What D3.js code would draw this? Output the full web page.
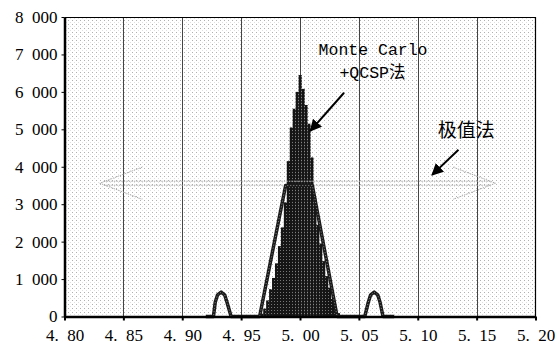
<!DOCTYPE html>
<html>
<head>
<meta charset="utf-8">
<script src="https://cdn.jsdelivr.net/npm/d3@7"></script>
<style>
  html, body { margin: 0; padding: 0; background: #fff; }
  #container { width: 556px; height: 350px; }
  .serif { font-family: "Liberation Serif", "Times New Roman", "DejaVu Serif", serif; }
  .mono { font-family: "Liberation Mono", "Courier New", "Noto Sans CJK SC", monospace; }
  .cjk { font-family: "Noto Sans CJK SC", sans-serif; }
</style>
</head>
<body>
<div id="container"></div>
<script>
// axis ticks
const xTicks = [4.80, 4.85, 4.90, 4.95, 5.00, 5.05, 5.10, 5.15, 5.20];
const yTicks = [0, 1000, 2000, 3000, 4000, 5000, 6000, 7000, 8000];

// Monte Carlo + QCSP histogram (bin centres, width 0.0025)
const histX = [4.9650, 4.9675, 4.9700, 4.9725, 4.9750, 4.9775, 4.9800, 4.9825, 4.9850, 4.9875,
               4.9900, 4.9925, 4.9950, 4.9975, 5.0000, 5.0025, 5.0050, 5.0075, 5.0100, 5.0125,
               5.0150, 5.0175, 5.0200, 5.0225, 5.0250, 5.0275, 5.0300, 5.0325, 5.0350, 5.0375];
const histCount = [20, 80, 210, 430, 730, 1030, 1420, 1880, 2380, 3050,
                   4150, 5050, 5550, 6000, 6450, 6080, 5650, 5150, 4250, 3150,
                   2450, 1950, 1480, 1080, 770, 470, 230, 90, 25, 8];
const binWidth = 0.0025;

// 极值法 curve
const extX = [4.920, 4.9265, 4.928, 4.930, 4.933, 4.936, 4.938, 4.9415, 4.9657, 4.9878,
              5.0105, 5.0315, 5.055, 5.058, 5.060, 5.063, 5.066, 5.068, 5.0705, 5.080];
const extY = [0, 0, 380, 580, 650, 580, 380, 0, 0, 3500,
              3500, 0, 0, 380, 580, 650, 580, 380, 0, 0];

const W = 556, H = 350;
const margin = {top: 17, right: 20.5, bottom: 33.5, left: 64.5};

const svg = d3.select("#container").append("svg")
    .attr("width", W)
    .attr("height", H);

const defs = svg.append("defs");
const bg = defs.append("pattern")
    .attr("id", "dots")
    .attr("width", 4).attr("height", 4)
    .attr("patternUnits", "userSpaceOnUse");
bg.append("rect").attr("width", 4).attr("height", 4).attr("fill", "#fff");
bg.append("rect").attr("x", 0).attr("y", 0).attr("width", 1).attr("height", 1).attr("fill", "#b0b0b0");
bg.append("rect").attr("x", 2).attr("y", 2).attr("width", 1).attr("height", 1).attr("fill", "#e0e0e0");

const dark = defs.append("pattern")
    .attr("id", "darkdots")
    .attr("width", 3).attr("height", 3)
    .attr("patternUnits", "userSpaceOnUse");
dark.append("rect").attr("width", 3).attr("height", 3).attr("fill", "#151515");
dark.append("rect").attr("x", 1).attr("y", 1).attr("width", 1).attr("height", 1).attr("fill", "#777");

defs.append("marker")
    .attr("id", "head")
    .attr("viewBox", "0 0 10 10")
    .attr("refX", 9).attr("refY", 5)
    .attr("markerWidth", 6).attr("markerHeight", 6)
    .attr("markerUnits", "strokeWidth")
    .attr("orient", "auto")
  .append("path")
    .attr("d", "M0,0L10,5L0,10z")
    .attr("fill", "#000");

const x = d3.scaleLinear().domain([4.80, 5.20]).range([margin.left, W - margin.right]);
const y = d3.scaleLinear().domain([0, 8000]).range([H - margin.bottom, margin.top]);

// plot background
svg.append("rect")
    .attr("x", x(4.80)).attr("y", y(8000))
    .attr("width", x(5.20) - x(4.80))
    .attr("height", y(0) - y(8000))
    .attr("fill", "url(#dots)");

// vertical grid
svg.append("g")
    .selectAll("line")
    .data(xTicks.slice(1, -1))
    .join("line")
    .attr("x1", d => Math.round(x(d)) + 0.5).attr("x2", d => Math.round(x(d)) + 0.5)
    .attr("y1", y(8000)).attr("y2", y(0))
    .attr("stroke", "#444")
    .attr("stroke-width", 1);

// histogram
svg.append("g")
    .selectAll("rect")
    .data(histX.map((d, i) => ({x: d, c: histCount[i]})))
    .join("rect")
    .attr("x", d => x(d.x - binWidth / 2))
    .attr("width", d => x(d.x + binWidth / 2) - x(d.x - binWidth / 2) + 0.3)
    .attr("y", d => y(d.c))
    .attr("height", d => y(0) - y(d.c))
    .attr("fill", "url(#darkdots)");

// faint double-headed range arrow
const arrowY = 3560, tipL = 4.830, tipR = 5.166, armL = 4.866, armR = 5.130, armDy = 430;
const faint = svg.append("g")
    .attr("fill", "none")
    .attr("stroke", "#a8a8a8")
    .attr("stroke-width", 1)
    .attr("stroke-dasharray", "1.5,1");
faint.append("line")
    .attr("x1", x(tipL) + 4).attr("x2", x(tipR) - 4)
    .attr("y1", y(arrowY) - 2).attr("y2", y(arrowY) - 2);
faint.append("line")
    .attr("x1", x(tipL) + 4).attr("x2", x(tipR) - 4)
    .attr("y1", y(arrowY) + 2).attr("y2", y(arrowY) + 2);
faint.append("path")
    .attr("d", `M${x(armL)},${y(arrowY + armDy)}L${x(tipL)},${y(arrowY)}L${x(armL)},${y(arrowY - armDy)}`);
faint.append("path")
    .attr("d", `M${x(armR)},${y(arrowY + armDy)}L${x(tipR)},${y(arrowY)}L${x(armR)},${y(arrowY - armDy)}`);

// 极值法 line
const extData = extX.map((d, i) => [d, extY[i]]);
const line = d3.line().x(d => x(d[0])).y(d => y(d[1]));
svg.append("path")
    .attr("d", line(extData))
    .attr("fill", "none")
    .attr("stroke", "#1a1a1a")
    .attr("stroke-width", 3.5)
    .attr("stroke-linejoin", "round");
svg.append("path")
    .attr("d", line(extData))
    .attr("fill", "none")
    .attr("stroke", "#888")
    .attr("stroke-width", 1)
    .attr("stroke-dasharray", "1,2");

// frame (top/right thin)
svg.append("path")
    .attr("d", `M${x(4.80)},${y(8000) + 0.5}H${x(5.20)}V${y(0)}`)
    .attr("fill", "none")
    .attr("stroke", "#000")
    .attr("stroke-width", 1.2);

// axes
const xAxis = svg.append("g")
    .attr("transform", `translate(0,${y(0)})`)
    .call(d3.axisBottom(x).tickValues(xTicks).tickSize(4).tickSizeOuter(0)
        .tickFormat(d => d3.format(".2f")(d).replace(".", ".\u2002")));
xAxis.attr("font-family", null);
xAxis.select(".domain").attr("stroke-width", 2.5);
xAxis.selectAll(".tick line").attr("stroke-width", 2);
xAxis.selectAll("text")
    .attr("class", "serif")
    .style("font-size", "17px")
    .attr("fill", "#000")
    .attr("dy", "1.05em");

const yAxis = svg.append("g")
    .attr("transform", `translate(${x(4.80)},0)`)
    .call(d3.axisLeft(y).tickValues(yTicks).tickSize(3).tickSizeOuter(0)
        .tickFormat(d => d3.format(",")(d).replace(",", "\u2002")));
yAxis.attr("font-family", null);
yAxis.select(".domain").attr("stroke-width", 2.5);
yAxis.selectAll("text")
    .attr("class", "serif")
    .style("font-size", "17px")
    .attr("fill", "#000")
    .attr("x", -7);

// annotations
svg.append("text")
    .attr("class", "mono")
    .attr("x", x(5.0158)).attr("y", y(6980))
    .style("font-size", "16.5px")
    .text("Monte Carlo");
svg.append("text")
    .attr("class", "mono")
    .attr("x", x(5.0335)).attr("y", y(6370))
    .style("font-size", "16.5px")
    .text("+QCSP法");
svg.append("line")
    .attr("x1", x(5.0374)).attr("y1", y(5976))
    .attr("x2", x(5.0088)).attr("y2", y(4960))
    .attr("stroke", "#000").attr("stroke-width", 2)
    .attr("marker-end", "url(#head)");

svg.append("text")
    .attr("class", "cjk")
    .attr("x", x(5.117)).attr("y", y(4800))
    .style("font-size", "19px")
    .text("极值法");
svg.append("line")
    .attr("x1", x(5.1346)).attr("y1", y(4452))
    .attr("x2", x(5.1122)).attr("y2", y(3783))
    .attr("stroke", "#000").attr("stroke-width", 2)
    .attr("marker-end", "url(#head)");
</script>
</body>
</html>
